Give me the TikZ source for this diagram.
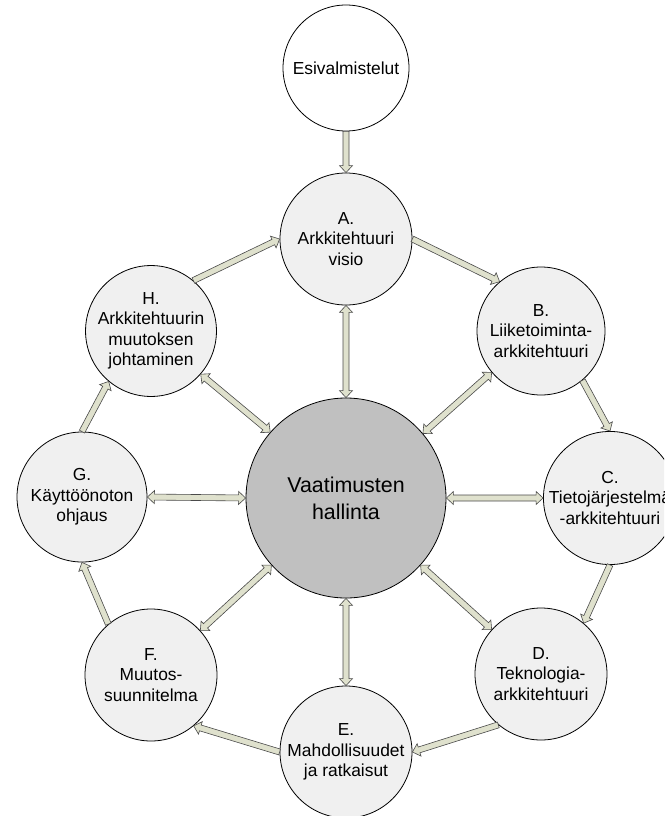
\documentclass[tikz,border=0pt]{standalone}
\usepackage{fontspec}
\setmainfont{Liberation Sans}
\usetikzlibrary{calc}

\definecolor{ringfill}{HTML}{F0F0F0}
\definecolor{hubfill}{HTML}{C0C0C0}
\definecolor{arrowfill}{HTML}{DFE1CD}
\definecolor{arrowline}{HTML}{4A4A4A}

\tikzset{
  phase/.style={circle, draw=black, line width=0.8pt, fill=ringfill,
    inner sep=0pt, minimum size=132pt, align=center,
    font=\fontsize{17.4}{20.5}\selectfont},
  startphase/.style={phase, fill=white, minimum size=126pt},
  hub/.style={circle, draw=black, line width=0.8pt, fill=hubfill,
    inner sep=0pt, minimum size=200pt, align=center,
    font=\fontsize{21.4}{26.7}\selectfont},
  blockarrow/.style={draw=arrowline, line width=0.6pt, fill=arrowfill,
    line join=miter}
}

% block arrow with a head at the second end
\newcommand\onearrow[2]{%
  \coordinate (nA) at ($(#2)!7pt!(#1)$);
  \draw[blockarrow] ($(#1)!3pt!90:(#2)$) -- ($(nA)!3pt!-90:(#1)$)
    -- ($(nA)!6.5pt!-90:(#1)$) -- (#2) -- ($(nA)!6.5pt!90:(#1)$)
    -- ($(nA)!3pt!90:(#1)$) -- ($(#1)!3pt!-90:(#2)$) -- cycle;
}
% block arrow with heads at both ends
\newcommand\twoarrow[2]{%
  \coordinate (nA) at ($(#2)!7pt!(#1)$);
  \coordinate (nB) at ($(#1)!7pt!(#2)$);
  \draw[blockarrow] (#1) -- ($(nB)!6.5pt!90:(#2)$) -- ($(nB)!3pt!90:(#2)$)
    -- ($(nA)!3pt!-90:(#1)$) -- ($(nA)!6.5pt!-90:(#1)$) -- (#2)
    -- ($(nA)!6.5pt!90:(#1)$) -- ($(nA)!3pt!90:(#1)$)
    -- ($(nB)!3pt!-90:(#2)$) -- ($(nB)!6.5pt!-90:(#2)$) -- cycle;
}

\begin{document}
\begin{tikzpicture}[x=1pt, y=-1pt]
\useasboundingbox (0,0) rectangle (664,816);
\clip (0,0) rectangle (664,816);

% phases
\node[startphase] (pre) at (346,68) {Esivalmistelut};
\node[phase] (A) at (346,239) {A.\\Arkkitehtuuri\\visio};
\node[phase, minimum size=128pt] (B) at (541,331) {B.\\Liiketoiminta-\\arkkitehtuuri};
\node[phase] (C) at (610,498) {C.\\Tietojärjestelmä\\-arkkitehtuuri};
\node[phase] (D) at (541,674) {D.\\Teknologia-\\arkkitehtuuri};
\node[phase] (E) at (346,752) {E.\\Mahdollisuudet\\ja ratkaisut};
\node[phase] (F) at (151,675) {F.\\Muutos-\\suunnitelma};
\node[phase, minimum size=130pt] (G) at (82,497) {G.\\Käyttöönoton\\ohjaus};
\node[phase, minimum size=128pt] (H) at (151,331) {H.\\Arkkitehtuurin\\muutoksen\\johtaminen};
\node[hub] (V) at (346,498) {Vaatimusten\\hallinta};

% cycle around the ring
\onearrow{pre.270}{A.90}
\onearrow{H.50}{A.180}
\onearrow{A.0}{B.130}
\onearrow{B.310}{C.90}
\onearrow{C.270}{D.50}
\onearrow{D.230}{E.0}
\onearrow{E.180}{F.310}
\onearrow{F.130}{G.270}
\onearrow{G.90}{H.230}

% links to requirements management
\twoarrow{V.90}{A.270}
\twoarrow{V.40.6}{B.220.6}
\twoarrow{V.0}{C.180}
\twoarrow{V.-42}{D.138}
\twoarrow{V.270}{E.90}
\twoarrow{V.222}{F.42}
\twoarrow{V.180}{G.0}
\twoarrow{V.139.4}{H.319.4}
\end{tikzpicture}
\end{document}
